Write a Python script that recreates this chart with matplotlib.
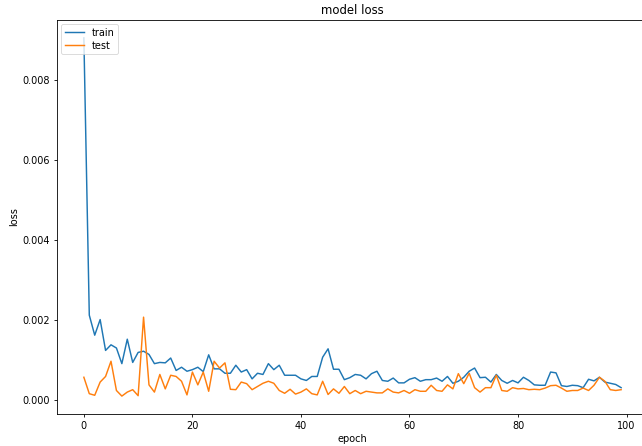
import matplotlib
matplotlib.use("Agg")
import matplotlib.pyplot as plt
import numpy as np

train_loss = [
    0.00905, 0.00213, 0.00163, 0.00202, 0.00125, 0.00139, 0.00131, 0.00092, 0.00153, 0.00095,
    0.00120, 0.00123, 0.00115, 0.00092, 0.00095, 0.00094, 0.00106, 0.00075, 0.00083, 0.00073,
    0.00077, 0.00083, 0.00072, 0.00114, 0.00079, 0.00079, 0.00068, 0.00068, 0.00088, 0.00071,
    0.00077, 0.00054, 0.00068, 0.00065, 0.00092, 0.00077, 0.00088, 0.00063, 0.00063, 0.00063,
    0.00054, 0.00050, 0.00060, 0.00060, 0.00108, 0.00129, 0.00078, 0.00078, 0.00052, 0.00057,
    0.00065, 0.00063, 0.00054, 0.00067, 0.00073, 0.00050, 0.00048, 0.00056, 0.00044, 0.00044,
    0.00053, 0.00057, 0.00048, 0.00052, 0.00052, 0.00056, 0.00048, 0.00060, 0.00043, 0.00048,
    0.00058, 0.00073, 0.00081, 0.00057, 0.00058, 0.00046, 0.00065, 0.00050, 0.00043, 0.00050,
    0.00044, 0.00058, 0.00050, 0.00039, 0.00038, 0.00038, 0.00071, 0.00069, 0.00037, 0.00035,
    0.00038, 0.00037, 0.00032, 0.00053, 0.00049, 0.00058, 0.00046, 0.00043, 0.00040, 0.00032,
]

test_loss = [
    0.00058, 0.00017, 0.00013, 0.00046, 0.00060, 0.00098, 0.00025, 0.00011, 0.00021, 0.00027,
    0.00012, 0.00208, 0.00039, 0.00021, 0.00065, 0.00029, 0.00063, 0.00060, 0.00048, 0.00014,
    0.00071, 0.00039, 0.00071, 0.00023, 0.00098, 0.00081, 0.00094, 0.00028, 0.00027, 0.00046,
    0.00042, 0.00027, 0.00035, 0.00043, 0.00048, 0.00043, 0.00025, 0.00018, 0.00028, 0.00016,
    0.00021, 0.00029, 0.00017, 0.00014, 0.00048, 0.00015, 0.00029, 0.00018, 0.00035, 0.00017,
    0.00025, 0.00017, 0.00023, 0.00021, 0.00019, 0.00019, 0.00029, 0.00021, 0.00019, 0.00025,
    0.00018, 0.00027, 0.00023, 0.00023, 0.00038, 0.00025, 0.00023, 0.00039, 0.00029, 0.00067,
    0.00042, 0.00068, 0.00032, 0.00021, 0.00032, 0.00032, 0.00063, 0.00025, 0.00023, 0.00032,
    0.00029, 0.00030, 0.00027, 0.00028, 0.00027, 0.00031, 0.00037, 0.00038, 0.00031, 0.00023,
    0.00025, 0.00025, 0.00031, 0.00025, 0.00038, 0.00058, 0.00048, 0.00027, 0.00025, 0.00027,
]

series_names = ["train", "test"]
title = "model loss"
x_label = "epoch"
y_label = "loss"

epochs = np.arange(len(train_loss))

fig = plt.figure(figsize=(6.42, 4.46), dpi=100)
ax = fig.add_axes([57 / 642, 32 / 446, 591 / 642, 394 / 446])

ax.plot(epochs, train_loss, color="#1f77b4", linewidth=1.05, label=series_names[0])
ax.plot(epochs, test_loss, color="#ff7f0e", linewidth=1.05, label=series_names[1])

ax.set_title(title, fontsize=8.4, pad=4)
ax.set_xlabel(x_label, fontsize=7, labelpad=2.5)
ax.set_ylabel(y_label, fontsize=7, labelpad=2.5)
ax.tick_params(labelsize=7, length=2.5, width=0.6, pad=2.5)
ax.set_yticks([0.0, 0.002, 0.004, 0.006, 0.008])
ax.set_yticklabels(["0.000", "0.002", "0.004", "0.006", "0.008"])
for s in ax.spines.values():
    s.set_linewidth(0.6)

leg = ax.legend(loc="upper left", fontsize=7, borderpad=0.35, handlelength=2.0,
                labelspacing=0.3, borderaxespad=0.45, fancybox=True)
leg.get_frame().set_linewidth(0.6)

fig.savefig("out.png", dpi=100)
